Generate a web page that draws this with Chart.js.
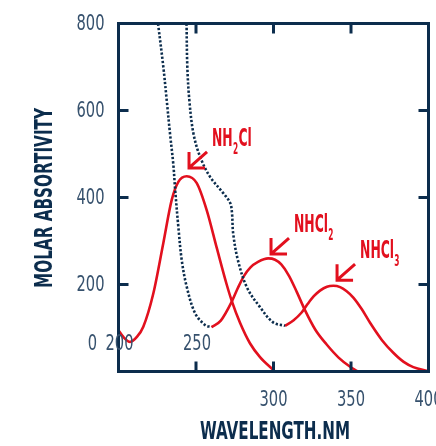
<!DOCTYPE html>
<html>
<head>
<meta charset="utf-8">
<script src="https://cdn.jsdelivr.net/npm/chart.js@4"></script>
<style>
  body { margin: 0; background: #fff; }
  #wrap { width: 436px; height: 446px; }
</style>
</head>
<body>
<div id="wrap"><canvas id="myChart" width="436" height="446"></canvas></div>
<script>
// wavelength (nm) / molar absorptivity
var nh2clX = [200, 203, 207.5, 212, 216, 222.5, 228.9, 234.3, 238.6, 244, 250.5, 256.9, 263.4, 269.8, 273, 278.4, 284.8, 291.3, 300];
var nh2clY = [95, 80, 68, 80, 103, 180, 295, 394, 436, 449, 433, 371, 284, 200, 163, 112, 65, 33, 3];

var nhcl2X = [260, 266, 273, 277, 281, 285, 290, 296.6, 301, 305, 310, 315, 320.3, 327, 334.3, 342, 349, 354];
var nhcl2Y = [102, 117, 160, 192, 220, 239, 252, 260, 257, 246, 220, 183, 141, 96, 62, 32, 12, 1];

var nhcl3X = [307.4, 313, 318, 322, 326, 330, 334.5, 338.6, 343, 347, 351.5, 357, 362.3, 370, 377.3, 384, 390.2, 400];
var nhcl3Y = [105, 118, 135, 155, 173, 186, 195, 197, 194, 185, 170, 143, 112, 72, 43, 22, 10, 1];

// dotted curves
var dotAX = [225.5, 228.9, 231.1, 233.2, 235.4, 236.5, 238.6, 240.8, 244, 249.4, 255.8, 260];
var dotAY = [800, 701, 624, 548, 475, 420, 333, 256, 195, 134, 107, 102];

var dotBX = [243.9, 244.4, 245.7, 248.3, 252.6, 259, 267.6, 272, 273.2, 274, 277.1, 282.9, 291.3, 299.7, 307.4];
var dotBY = [800, 701, 624, 548, 494, 448, 410, 388, 365, 317, 255, 193, 148, 113, 105];

var yTicks = [800, 600, 400, 200];
var xTicksLow = [300, 350, 400];
var xTicksHigh = [200, 250];

// curve labels, pointing at the peaks
var peakNames = ["NH", "NHCl", "NHCl"];
var peakSubs = ["2", "2", "3"];
var peakTails = ["Cl", "", ""];
var peakX = [245.5, 298.4, 341];
var peakY = [468, 270, 210];

var NAVY = "#0c2d4d";
var LABEL = "#36516d";
var RED = "#e2101e";

function pts(xs, ys) {
  return xs.map(function (x, i) { return { x: x, y: ys[i] }; });
}

function redSet(xs, ys) {
  return {
    data: pts(xs, ys),
    borderColor: RED,
    borderWidth: 2.6,
    pointRadius: 0,
    cubicInterpolationMode: "monotone",
    fill: false,
  };
}

function dotSet(xs, ys) {
  return {
    data: pts(xs, ys),
    borderColor: NAVY,
    borderWidth: 2.6,
    borderDash: [2.3, 1.9],
    pointRadius: 0,
    tension: 0.35,
    fill: false,
  };
}

// draw text squeezed to a set width (the picture uses a very narrow face)
function fitText(ctx, text, x, y, font, width, align) {
  ctx.save();
  ctx.font = font;
  var w = ctx.measureText(text).width;
  var s = width / w;
  ctx.translate(x, y);
  ctx.scale(s, 1);
  ctx.textAlign = align || "left";
  ctx.fillText(text, 0, 0);
  ctx.restore();
}

function squeeze(ctx, font, sample, width) {
  ctx.save();
  ctx.font = font;
  var s = width / ctx.measureText(sample).width;
  ctx.restore();
  return s;
}

var FONT = "'Liberation Sans Narrow', 'DejaVu Sans Condensed', 'Roboto', sans-serif";

var framePlugin = {
  id: "frame",
  afterDatasetsDraw: function (chart) {
    var ctx = chart.ctx;
    var a = chart.chartArea;
    var xs = chart.scales.x;
    var ys = chart.scales.y;

    ctx.save();
    ctx.strokeStyle = NAVY;
    ctx.lineWidth = 3;
    ctx.strokeRect(a.left, a.top, a.right - a.left, a.bottom - a.top);

    // inward ticks
    ctx.beginPath();
    [250, 300, 350].forEach(function (v) {
      var px = xs.getPixelForValue(v);
      ctx.moveTo(px, a.bottom); ctx.lineTo(px, a.bottom - 10);
      ctx.moveTo(px, a.top); ctx.lineTo(px, a.top + 10);
    });
    [600, 400, 200].forEach(function (v) {
      var py = ys.getPixelForValue(v);
      ctx.moveTo(a.left, py); ctx.lineTo(a.left + 10, py);
      ctx.moveTo(a.right, py); ctx.lineTo(a.right - 10, py);
    });
    ctx.stroke();

    // tick labels
    ctx.fillStyle = LABEL;
    ctx.textBaseline = "middle";
    var f = "21px " + FONT;
    var s = squeeze(ctx, f, "800", 28);
    function num(t, x, y, align) {
      ctx.save();
      ctx.font = f;
      ctx.translate(x, y);
      ctx.scale(s, 1);
      ctx.textAlign = align;
      ctx.fillText(t, 0, 1);
      ctx.restore();
    }
    yTicks.forEach(function (v) {
      num(String(v), a.left - 14, ys.getPixelForValue(v), "right");
    });
    var lowY = ys.getPixelForValue(0) - 28;
    num("0", a.left - 26, lowY, "center");
    xTicksHigh.forEach(function (v) {
      num(String(v), xs.getPixelForValue(v) + 1, lowY, "center");
    });
    xTicksLow.forEach(function (v) {
      num(String(v), xs.getPixelForValue(v), a.bottom + 28, "center");
    });

    // axis titles
    ctx.fillStyle = NAVY;
    ctx.textBaseline = "alphabetic";
    var tf = "bold 24px " + FONT;
    fitText(ctx, "WAVELENGTH.NM", 275, 439, tf, 150, "center");
    ctx.save();
    ctx.translate(52, 198);
    ctx.rotate(-Math.PI / 2);
    fitText(ctx, "MOLAR ABSORTIVITY", 0, 0, tf, 180, "center");
    ctx.restore();

    // peak labels with arrows
    ctx.strokeStyle = RED;
    ctx.fillStyle = RED;
    ctx.lineWidth = 3;
    ctx.lineCap = "butt";
    var lf = "bold 25px " + FONT;
    var ls = squeeze(ctx, lf, "NHCl", 34);
    var sf = "bold 15px " + FONT;
    for (var i = 0; i < peakX.length; i++) {
      var tx = xs.getPixelForValue(peakX[i]);
      var ty = ys.getPixelForValue(peakY[i]);
      ctx.beginPath();
      ctx.moveTo(tx + 18, ty - 16);
      ctx.lineTo(tx + 1, ty - 1);
      ctx.moveTo(tx, ty - 16);
      ctx.lineTo(tx, ty);
      ctx.lineTo(tx + 16, ty);
      ctx.stroke();

      var x0 = tx + 23;
      var y0 = ty - 22;
      ctx.save();
      ctx.translate(x0, y0);
      ctx.scale(ls, 1);
      ctx.font = lf;
      ctx.fillText(peakNames[i], 0, 0);
      var w1 = ctx.measureText(peakNames[i]).width;
      ctx.font = sf;
      ctx.fillText(peakSubs[i], w1 + 0.5, 8);
      var w2 = ctx.measureText(peakSubs[i]).width;
      ctx.font = lf;
      ctx.fillText(peakTails[i], w1 + w2 + 1, 0);
      ctx.restore();
    }
    ctx.restore();
  },
};

new Chart(document.getElementById("myChart"), {
  type: "line",
  data: {
    datasets: [
      dotSet(dotAX, dotAY),
      dotSet(dotBX, dotBY),
      redSet(nh2clX, nh2clY),
      redSet(nhcl2X, nhcl2Y),
      redSet(nhcl3X, nhcl3Y),
    ],
  },
  options: {
    responsive: false,
    animation: false,
    layout: { padding: { left: 118.5, top: 23.5, right: 7.5, bottom: 74.5 } },
    plugins: { legend: { display: false }, tooltip: { enabled: false } },
    scales: {
      x: { type: "linear", min: 200, max: 400, display: false },
      y: { type: "linear", min: 0, max: 800, display: false },
    },
  },
  plugins: [framePlugin],
});
</script>
</body>
</html>
